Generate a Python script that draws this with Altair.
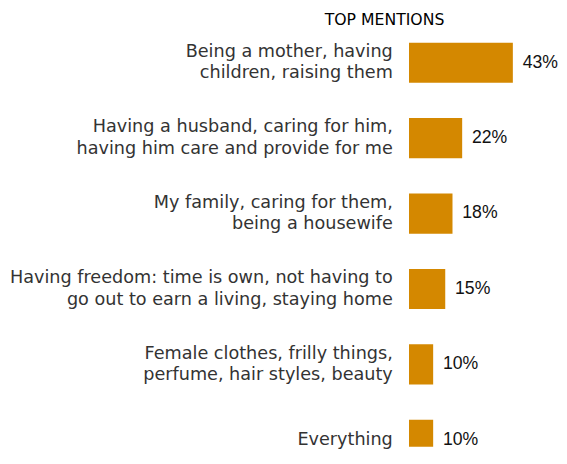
import altair as alt
import pandas as pd

categories = [
    "Being a mother, having|children, raising them",
    "Having a husband, caring for him,|having him care and provide for me",
    "My family, caring for them,|being a housewife",
    "Having freedom: time is own, not having to|go out to earn a living, staying home",
    "Female clothes, frilly things,|perfume, hair styles, beauty",
    "Everything",
]
values = [43, 22, 18, 15, 10, 10]
title_text = "TOP MENTIONS"

df = pd.DataFrame({"cat": categories, "val": values})
df["lbl"] = [f"{v}%" for v in values]

y_scale = alt.Scale(paddingInner=0.4675, paddingOuter=0.1, range=[0, 441])
y_enc = alt.Y(
    "cat:N",
    sort=categories,
    title=None,
    scale=y_scale,
    axis=alt.Axis(
        domain=False,
        ticks=False,
        labelPadding=17,
        labelLimit=600,
        labelFont="DejaVu Sans",
        labelFontSize=18,
        labelColor="#333333",
        labelLineHeight=22,
        labelBaseline={
            "condition": {"test": "indexof(datum.value, '|') >= 0", "value": "line-bottom"},
            "value": "middle",
        },
        labelExpr="split(datum.value, '|')",
        minExtent=409,
        maxExtent=409,
    ),
)

x_enc = alt.X("val:Q", axis=None, scale=alt.Scale(domain=[0, 43], nice=False))

bars = alt.Chart(df).mark_bar(color="#D48800", clip=True).encode(y=y_enc, x=x_enc)
texts = alt.Chart(df).mark_text(
    align="left", baseline="middle", dx=10, font="Liberation Sans", fontSize=18, color="#111111"
).encode(
    y=alt.Y("cat:N", sort=categories, title=None),
    x=alt.X("val:Q", axis=None, title=None),
    text="lbl:N",
)

chart = (
    alt.layer(bars, texts)
    .properties(
        width=106,
        height=420,
        padding=0,
        title=alt.TitleParams(
            title_text,
            anchor="start",
            frame="group",
            dx=-86,
            font="DejaVu Sans",
            fontSize=16,
            fontWeight="normal",
            color="#000000",
            baseline="bottom",
            offset=-9,
        ),
    )
    .configure_view(stroke=None)
)

chart.save("out.html", embed_options={"renderer": "svg", "actions": False})
